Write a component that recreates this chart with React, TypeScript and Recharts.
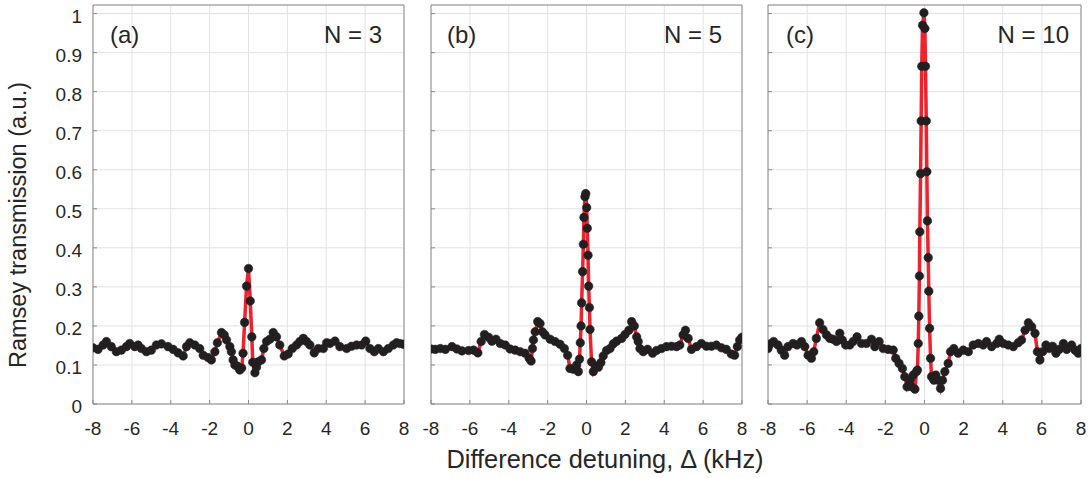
import React from "react";
import { LineChart, Line, XAxis, YAxis, CartesianGrid, ReferenceLine } from "recharts";

const xTicks = [-8, -6, -4, -2, 0, 2, 4, 6, 8];
const yTicks = [0, 0.1, 0.2, 0.3, 0.4, 0.5, 0.6, 0.7, 0.8, 0.9, 1];
const panelTags = ["(a)", "(b)", "(c)"];
const panelN = ["N = 3", "N = 5", "N = 10"];
const xTitle = "Difference detuning, \u0394 (kHz)";
const yTitle = "Ramsey transmission (a.u.)";

const detuningA = [
  -8.0, -7.74, -7.48, -7.31, -7.06, -6.8, -6.54, -6.28, -6.11, -5.85, -5.68, -5.51, -5.25, -5.0,
  -4.74, -4.48, -4.14, -3.88, -3.62, -3.36, -3.19, -3.02, -2.76, -2.51, -2.33, -2.08, -1.91, -1.73,
  -1.6, -1.39, -1.25, -1.13, -0.96, -0.88, -0.79, -0.7, -0.57, -0.45, -0.35, -0.28, -0.2, -0.1, 0.0,
  0.09, 0.17, 0.22, 0.33, 0.41, 0.5, 0.67, 0.79, 0.93, 1.1, 1.27, 1.44, 1.61, 1.84, 2.04, 2.25, 2.47,
  2.64, 2.82, 2.99, 3.16, 3.38, 3.59, 3.85, 4.02, 4.19, 4.45, 4.7, 5.05, 5.3, 5.56, 5.82, 6.03, 6.25,
  6.47, 6.68, 6.94, 7.19, 7.45, 7.62, 7.79, 7.97,
];
const transmissionA = [
  0.144, 0.14, 0.151, 0.16, 0.147, 0.134, 0.138, 0.147, 0.155, 0.147, 0.151, 0.142, 0.134, 0.138,
  0.151, 0.154, 0.147, 0.14, 0.131, 0.123, 0.147, 0.157, 0.151, 0.142, 0.125, 0.119, 0.113, 0.134,
  0.157, 0.183, 0.177, 0.164, 0.147, 0.134, 0.113, 0.1, 0.097, 0.087, 0.092, 0.13, 0.209, 0.302, 0.347,
  0.264, 0.172, 0.107, 0.08, 0.094, 0.108, 0.113, 0.142, 0.16, 0.166, 0.183, 0.172, 0.151, 0.123, 0.128,
  0.142, 0.151, 0.16, 0.168, 0.16, 0.151, 0.131, 0.142, 0.142, 0.157, 0.155, 0.161, 0.147, 0.142, 0.148,
  0.151, 0.151, 0.161, 0.142, 0.134, 0.142, 0.134, 0.142, 0.151, 0.157, 0.155, 0.153,
];

const detuningB = [
  -8.0, -7.78, -7.52, -7.26, -6.92, -6.67, -6.41, -6.07, -5.81, -5.59, -5.42, -5.25, -5.04, -4.87,
  -4.66, -4.44, -4.18, -3.93, -3.67, -3.41, -3.16, -2.95, -2.85, -2.78, -2.73, -2.64, -2.51, -2.39,
  -2.27, -2.13, -1.87, -1.62, -1.36, -1.14, -0.97, -0.85, -0.68, -0.51, -0.42, -0.36, -0.32, -0.28,
  -0.25, -0.2, -0.16, -0.13, -0.08, -0.04, 0.01, 0.04, 0.08, 0.11, 0.15, 0.18, 0.26, 0.35, 0.47, 0.61,
  0.74, 0.86, 1.03, 1.21, 1.38, 1.55, 1.81, 1.98, 2.18, 2.32, 2.46, 2.58, 2.66, 2.75, 2.92, 3.14, 3.4,
  3.6, 3.86, 4.12, 4.37, 4.63, 4.8, 4.97, 5.09, 5.23, 5.4, 5.66, 5.91, 6.17, 6.43, 6.68, 6.94, 7.19,
  7.45, 7.62, 7.76, 7.88, 8.0,
];
const transmissionB = [
  0.141, 0.14, 0.142, 0.14, 0.147, 0.141, 0.136, 0.137, 0.138, 0.131, 0.16, 0.178, 0.171, 0.161,
  0.166, 0.155, 0.151, 0.141, 0.138, 0.134, 0.13, 0.117, 0.11, 0.142, 0.164, 0.185, 0.211, 0.206,
  0.185, 0.177, 0.166, 0.16, 0.153, 0.142, 0.125, 0.091, 0.089, 0.1, 0.083, 0.115, 0.157, 0.2,
  0.259, 0.339, 0.409, 0.478, 0.531, 0.539, 0.503, 0.45, 0.381, 0.302, 0.247, 0.191, 0.108, 0.083,
  0.097, 0.094, 0.106, 0.123, 0.137, 0.142, 0.154, 0.161, 0.168, 0.178, 0.189, 0.211, 0.2, 0.172, 0.16,
  0.142, 0.134, 0.14, 0.13, 0.137, 0.142, 0.147, 0.148, 0.147, 0.151, 0.177, 0.189, 0.168, 0.14, 0.147,
  0.155, 0.148, 0.148, 0.151, 0.144, 0.14, 0.128, 0.125, 0.147, 0.164, 0.171,
];

const detuningC = [
  -8.0, -7.88, -7.71, -7.49, -7.32, -7.15, -6.98, -6.72, -6.52, -6.29, -6.12, -5.95, -5.78, -5.66,
  -5.53, -5.36, -5.19, -5.01, -4.84, -4.67, -4.5, -4.33, -4.2, -4.03, -3.82, -3.65, -3.45, -3.22,
  -2.97, -2.71, -2.54, -2.32, -2.11, -1.86, -1.6, -1.47, -1.3, -1.13, -1.01, -0.89, -0.75, -0.66,
  -0.58, -0.49, -0.41, -0.36, -0.32, -0.29, -0.26, -0.24, -0.2, -0.17, -0.14, -0.1, -0.03, 0.02, 0.05,
  0.09, 0.12, 0.15, 0.19, 0.22, 0.26, 0.31, 0.36, 0.48, 0.58, 0.7, 0.82, 0.92, 1.04, 1.21, 1.33, 1.5,
  1.72, 1.98, 2.24, 2.49, 2.75, 3.0, 3.17, 3.43, 3.69, 3.82, 4.03, 4.28, 4.54, 4.79, 4.96, 5.14, 5.31,
  5.48, 5.65, 5.77, 5.9, 6.04, 6.21, 6.38, 6.55, 6.72, 6.89, 7.1, 7.27, 7.52, 7.69, 7.86, 8.0,
];
const transmissionC = [
  0.142, 0.154, 0.16, 0.151, 0.138, 0.125, 0.147, 0.155, 0.151, 0.16, 0.147, 0.125, 0.117, 0.134,
  0.168, 0.208, 0.191, 0.177, 0.168, 0.166, 0.16, 0.181, 0.164, 0.151, 0.151, 0.16, 0.172, 0.155,
  0.155, 0.166, 0.147, 0.16, 0.142, 0.14, 0.138, 0.117, 0.104, 0.091, 0.07, 0.044, 0.061, 0.044,
  0.074, 0.038, 0.083, 0.087, 0.155, 0.225, 0.328, 0.441, 0.59, 0.725, 0.865, 0.97, 1.002, 0.962, 0.865,
  0.725, 0.595, 0.469, 0.375, 0.289, 0.194, 0.117, 0.07, 0.061, 0.074, 0.061, 0.04, 0.061, 0.083, 0.104,
  0.134, 0.142, 0.13, 0.138, 0.134, 0.151, 0.155, 0.151, 0.16, 0.147, 0.155, 0.166, 0.155, 0.151, 0.147,
  0.157, 0.164, 0.189, 0.208, 0.198, 0.181, 0.134, 0.113, 0.134, 0.151, 0.142, 0.148, 0.13, 0.14, 0.155,
  0.14, 0.151, 0.138, 0.13, 0.142,
];

const FONT = "'Liberation Sans', Arial, Helvetica, sans-serif";
const TEXT = "#262626";
const AXIS = "#8a8a8a";
const GRID = "#e2e2e2";
const RED = "#f0202c";
const DOT = "#231f20";
const W = 1089;
const H = 478;
const PLOT_TOP = 5;
const PLOT_BOTTOM = 404;
const X_AXIS_H = 40;
const Y_AXIS_W = 40;
const Y_MAX = 1.022;

const zip = (xs: number[], ys: number[]) => xs.map((x, i) => ({ x, y: ys[i] }));
const series = [zip(detuningA, transmissionA), zip(detuningB, transmissionB), zip(detuningC, transmissionC)];
const panelBox = [
  { left: 93, right: 404 },
  { left: 431, right: 742 },
  { left: 768, right: 1081 },
];

const renderXTick = (props: any) => (
  <text
    key={`xt-${props.index}`}
    x={props.x}
    y={props.y}
    dy="0.71em"
    textAnchor="middle"
    fontSize={19}
    fill={TEXT}
    fontFamily={FONT}
  >
    {String(props.payload.value)}
  </text>
);
const renderYTick = (props: any) => (
  <text
    key={`yt-${props.index}`}
    x={props.x}
    y={props.y + 2.5}
    dy="0.36em"
    textAnchor="end"
    fontSize={19}
    fill={TEXT}
    fontFamily={FONT}
  >
    {String(props.payload.value)}
  </text>
);
const renderNoTick = (props: any) => <g key={`nt-${props.index}`} />;

function Panel({ idx }: { idx: number }) {
  const box = panelBox[idx];
  return (
    <div style={{ position: "absolute", left: 0, top: 0, width: W, height: H, pointerEvents: "none" }}>
      <LineChart
        width={W}
        height={H}
        data={series[idx]}
        margin={{
          top: PLOT_TOP,
          bottom: H - PLOT_BOTTOM - X_AXIS_H,
          left: box.left - Y_AXIS_W,
          right: W - box.right,
        }}
      >
        <CartesianGrid stroke={GRID} strokeWidth={1} />
        <XAxis
          type="number"
          dataKey="x"
          domain={[-8, 8]}
          ticks={xTicks}
          height={X_AXIS_H}
          axisLine={{ stroke: AXIS }}
          tickLine={{ stroke: AXIS }}
          tickSize={-4}
          tickMargin={22}
          tick={renderXTick}
          interval={0}
          allowDataOverflow
        />
        <YAxis
          type="number"
          domain={[0, Y_MAX]}
          ticks={yTicks}
          width={Y_AXIS_W}
          axisLine={{ stroke: AXIS }}
          tickLine={{ stroke: AXIS }}
          tickSize={-4}
          tickMargin={15}
          tick={idx === 0 ? renderYTick : renderNoTick}
          interval={0}
          allowDataOverflow
        />
        <ReferenceLine x={8} stroke={AXIS} strokeWidth={1} ifOverflow="visible" />
        <ReferenceLine y={Y_MAX} stroke={AXIS} strokeWidth={1} ifOverflow="visible" />
        <Line
          type="linear"
          dataKey="y"
          stroke={RED}
          strokeWidth={3.5}
          dot={{ r: 4.3, fill: DOT, stroke: DOT, strokeWidth: 0.5 }}
          activeDot={false}
          isAnimationActive={false}
        />
      </LineChart>
    </div>
  );
}

export default function App() {
  return (
    <div style={{ position: "absolute", left: 0, top: 0, width: W, height: H, background: "#fff", overflow: "hidden" }}>
      <Panel idx={0} />
      <Panel idx={1} />
      <Panel idx={2} />
      <svg width={W} height={H} style={{ position: "absolute", left: 0, top: 0, pointerEvents: "none" }}>
        <g fontFamily={FONT} fill={TEXT}>
          <text x={110} y={43} fontSize={24}>{panelTags[0]}</text>
          <text x={382} y={43} fontSize={24} textAnchor="end">{panelN[0]}</text>
          <text x={447} y={43} fontSize={24}>{panelTags[1]}</text>
          <text x={722} y={43} fontSize={24} textAnchor="end">{panelN[1]}</text>
          <text x={786} y={43} fontSize={24}>{panelTags[2]}</text>
          <text x={1069} y={43} fontSize={24} textAnchor="end">{panelN[2]}</text>
          <text x={605} y={468} fontSize={25.4} textAnchor="middle">{xTitle}</text>
          <text x={26} y={225} fontSize={23.5} textAnchor="middle" transform="rotate(-90, 26, 225)">{yTitle}</text>
        </g>
      </svg>
    </div>
  );
}
